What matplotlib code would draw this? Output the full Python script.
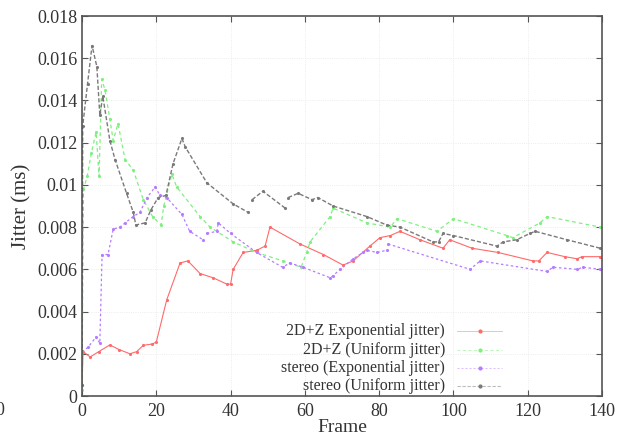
import numpy as np
import matplotlib
matplotlib.use("Agg")
import matplotlib.pyplot as plt

nan = np.nan

# 2D+Z (Exponential jitter)
exp2d_frame = [0, 0.3, 2.2, 4.5, 7.5, 10, 12.9, 14.7, 16.5, 18.8, 20, 22.8, 26.4, 28.5,
               31.8, 35.3, 39, 40, 40.7, 43.4, 47, 49.3, 50.6, 58.7, 65, 70.3,
               73, 77.5, 80.2, 83, 85.6, 91, 97.2, 99, 105, 112, 121.4, 123,
               125.2, 130, 133.3, 134.6, 139.5]
exp2d_val = [0.0005, 0.0021, 0.00185, 0.0021, 0.00242, 0.0022, 0.0020, 0.0021, 0.0024, 0.00246,
             0.00255, 0.00455, 0.0063, 0.0064, 0.0058, 0.0056, 0.0053, 0.0053,
             0.0060, 0.0068, 0.0069, 0.0071, 0.0080, 0.0072, 0.0067, 0.0062,
             0.0064, 0.0071, 0.0075, 0.0076, 0.0078, 0.0074, 0.0070, 0.0074,
             0.0070, 0.0068, 0.0064, 0.0064, 0.0068, 0.0066, 0.0065, 0.0066, 0.0066]

# 2D+Z (Uniform jitter)
uni2d_frame = [0, 0.4, 1.4, 2.5, 3.8, 4.6, 5.3, 6.2, 7.5, 8.4, 9.7, 11.6, 13.8, 16.5,
               19, 21.3, 22, 24.2, 25.5, 31.8, 34.5, 40.7, 47, 54, 59, 60.5,
               61.4, 66.8, 67.6, 76.7, 83, 84.8, 95.6, 100, 114.4, 116, 123.3,
               125.2, 139.5]
uni2d_val = [0.0003, 0.0098, 0.0104, 0.0115, 0.0125, 0.0104, 0.0150, 0.0145, 0.0131, 0.0121,
             0.0129, 0.0112, 0.0107, 0.0093, 0.0085, 0.0081, 0.0090, 0.0105,
             0.0099, 0.0085, 0.0080, 0.0073, 0.0068, 0.0064, 0.0061, 0.0068,
             0.0073, 0.0085, 0.0089, 0.0082, 0.0080, 0.0084, 0.0078, 0.0084,
             0.0076, 0.0075, 0.0082, 0.0085, 0.0080]

# stereo (Exponential jitter)
expst_frame = [0, 1.6, 3.8, 4.8, 5.4, 7, 8.4, 10.2, 11.6, 13.8, 15.6, 17.5, 19.7, 21,
               22.8, 26.9, 29, 32.6, nan, 33.6, 36.3, 36.7, 40, 47, 54, 56, 59.5,
               66.8, 67.6, 69.5, 73, 75.7, 76.7, 79.4, 82, nan, 82.4, 104.5,
               107.2, 125.2, 126.8, 133.3, 134.9, 139.5]
expst_val = [0.0021, 0.0023, 0.0028, 0.0025, 0.0067, 0.0067, 0.0079, 0.0080, 0.0082,
             0.0085, 0.0087, 0.0094, 0.0099, 0.0095, 0.0094, 0.0086, 0.0078,
             0.0074, nan, 0.0077, 0.0078, 0.0082, 0.0077, 0.0068, 0.0061,
             0.0063, 0.0061, 0.0056, 0.0057, 0.0060, 0.0065, 0.0068, 0.0069,
             0.0068, 0.0069, nan, 0.0072, 0.0060, 0.0064, 0.0059, 0.0061,
             0.0060, 0.0061, 0.0060]

# stereo (Uniform jitter)
unist_frame = [0, 0.2, 1.5, 2.7, 4, 4.8, 5.6, 7.5, 8.9, 12, 13.8, 14.5, 17, 18.5,
               20.5, 22.6, 24.5, 26.9, 27.8, 33.6, 40.7, 44.7, nan, 45.8, 48.7,
               54.7, nan, 55.5, 58.2, 61.9, 63.5, 67.6, 76.7, 82, 85.6, 94.5,
               96, 97.2, 100, 111.7, 113.4, 117, 120.6, 122, 130.6, 139.5]
unist_val = [0.0005, 0.0128, 0.0148, 0.0166, 0.0156, 0.0133, 0.0142, 0.0121, 0.0112,
             0.0096, 0.0087, 0.0081, 0.0082, 0.0088, 0.0094, 0.0095, 0.0110,
             0.0122, 0.0118, 0.0101, 0.0091, 0.0087, nan, 0.0093, 0.0097,
             0.0089, nan, 0.0094, 0.0096, 0.0093, 0.0094, 0.0090, 0.0085,
             0.0081, 0.0080, 0.0073, 0.0073, 0.0077, 0.0076, 0.0071, 0.0073,
             0.0074, 0.0077, 0.0078, 0.0074, 0.0070]

labels = ["2D+Z Exponential jitter)", "2D+Z (Uniform jitter)",
          "stereo (Exponential jitter)", "stereo (Uniform jitter)"]
colors = ["#ff6a6a", "#7ff07f", "#b47cff", "#7a7a7a"]

x_ticks = [0, 20, 40, 60, 80, 100, 120, 140]
y_ticks = [0, 0.002, 0.004, 0.006, 0.008, 0.01, 0.012, 0.014, 0.016, 0.018]
y_tick_labels = ["0", "0.002", "0.004", "0.006", "0.008", "0.01", "0.012",
                 "0.014", "0.016", "0.018"]

plt.rcParams["font.family"] = ["Liberation Serif", "DejaVu Serif"]

fig = plt.figure(figsize=(6.2, 4.36), dpi=100)
ax = fig.add_axes([82 / 620, 1 - 396 / 436, 520 / 620, 380 / 436])

series = [(exp2d_frame, exp2d_val), (uni2d_frame, uni2d_val),
          (expst_frame, expst_val), (unist_frame, unist_val)]
styles = [dict(ls="-", lw=0.8), dict(ls=(0, (3, 2.5)), lw=0.9),
          dict(ls=(0, (2, 2)), lw=0.9), dict(ls=(0, (3, 1.5)), lw=1.0)]
for (fr, val), c, st in zip(series, colors, styles):
    ax.plot(fr, val, color=c, marker=".", ms=2.5, **st)

ax.set_xlim(0, 140)
ax.set_ylim(0, 0.018)
ax.set_xticks(x_ticks)
ax.set_yticks(y_ticks)
ax.set_yticklabels(y_tick_labels)
ax.tick_params(direction="in", top=True, right=True, length=4, labelsize=13,
               color="#555555", labelcolor="#333333")
ax.tick_params(axis="x", pad=5)
ax.grid(True, color="#e6e6e6", ls=":", lw=0.6)
for sp in ax.spines.values():
    sp.set_color("#555555")
    sp.set_linewidth(1.2)

ax.set_xlabel("Frame", fontsize=14, color="#333333")
ax.xaxis.set_label_coords(0.5, -0.06)
ax.set_ylabel("Jitter (ms)", fontsize=15, color="#333333", labelpad=4)

# gnuplot style legend: right aligned text, sample line on the right
row_y = [0.171, 0.121, 0.074, 0.026]
for lab, c, st, yy in zip(labels, colors, styles, row_y):
    ax.text(0.698, yy, lab, transform=ax.transAxes, ha="right", va="center",
            fontsize=11.5, color="#333333")
    ax.plot([0.721, 0.808], [yy, yy], transform=ax.transAxes, color=c,
            lw=st["lw"] * 0.8, ls=st["ls"], alpha=0.5)
    ax.plot([0.7645], [yy], transform=ax.transAxes, color=c, marker=".", ms=4)

# stray tick label at the left edge of the source image
fig.text(0.0, 1 - 410 / 436, "0", ha="center", va="center", fontsize=13,
         color="#333333")

fig.savefig("out.png", dpi=100)
